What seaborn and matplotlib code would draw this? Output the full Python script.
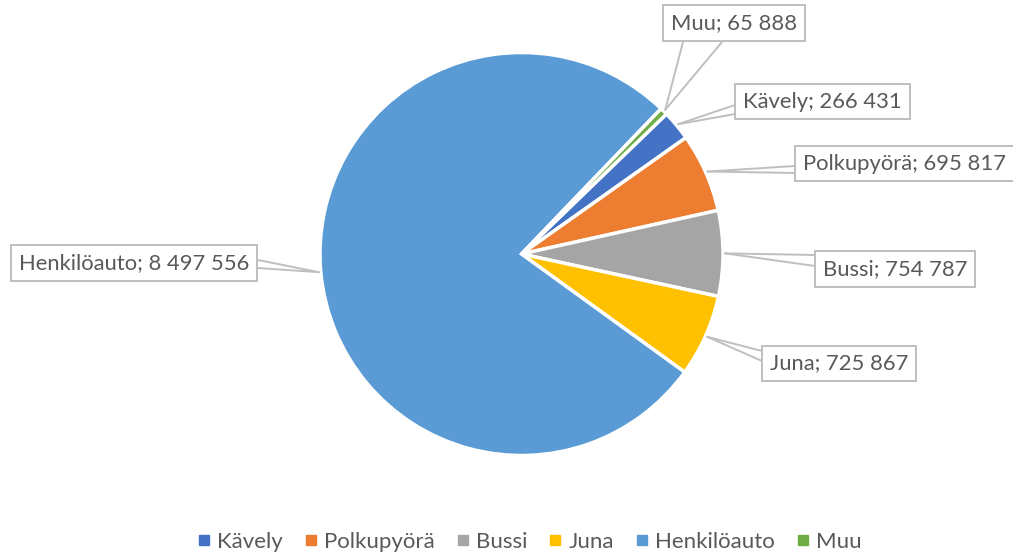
import matplotlib
matplotlib.use("Agg")
import matplotlib.pyplot as plt
import seaborn as sns
import numpy as np
from matplotlib.lines import Line2D

categories = ["Kävely", "Polkupyörä", "Bussi", "Juna", "Henkilöauto", "Muu"]
values = [266431, 695817, 754787, 725867, 8497556, 65888]
value_labels = ["266 431", "695 817", "754 787", "725 867", "8 497 556", "65 888"]
colors = ["#4472C4", "#ED7D31", "#A5A5A5", "#FFC000", "#5B9BD5", "#70AD47"]

sns.set_theme(style="white")
plt.rcParams['font.family'] = ['Lato', 'DejaVu Sans']

W, H = 1013, 553
fig = plt.figure(figsize=(W / 100, H / 100), dpi=100)
ax = fig.add_axes([0, 0, 1, 1])

def py(y):
    return H - y

cx, cy, r = 521.5, 254, 201.5
wedges, _ = ax.pie(values, colors=sns.color_palette(colors), startangle=44, counterclock=False,
                   center=(cx, py(cy)), radius=r,
                   wedgeprops=dict(edgecolor="white", linewidth=2.5))
ax.set_xlim(0, W)
ax.set_ylim(0, H)
ax.set_aspect("equal")
ax.axis("off")

# label layout (pixels): box left, box center y, two attach points on box edge
layout = {
    "Muu": (663, 23, [(683, 42), (722, 42)]),
    "Kävely": (735, 101.5, [(735, 105), (735, 114)]),
    "Polkupyörä": (795, 163.5, [(795, 166), (795, 173)]),
    "Bussi": (815, 269, [(815, 255), (815, 266)]),
    "Juna": (762, 363.5, [(762, 351), (762, 361)]),
    "Henkilöauto": (11, 263, [(258, 260), (258, 268)]),
}

fs = 15.8
padpx = 0.36 * fs * 100 / 72
for w, cat, lab in zip(wedges, categories, value_labels):
    mid = np.deg2rad((w.theta1 + w.theta2) / 2)
    ax_x = cx + r * 1.01 * np.cos(mid)
    ax_y = py(cy) + r * 1.01 * np.sin(mid)
    left, ycen, pts = layout[cat]
    for (px_, py_) in pts:
        ax.plot([ax_x, px_], [ax_y, py(py_)], color="#BFBFBF", lw=1.4, zorder=3,
                solid_capstyle="round")
    ax.text(left + padpx, py(ycen), f"{cat}; {lab}", ha="left", va="center",
            fontsize=fs, color="#595959", zorder=5,
            bbox=dict(boxstyle="square,pad=0.36", fc="white", ec="#BFBFBF", lw=1.4))

handles = [Line2D([0], [0], marker="s", ls="", markersize=6.5, markerfacecolor=c,
                  markeredgecolor=c) for c in colors]
leg = ax.legend(handles, categories, loc="center", bbox_to_anchor=(530 / W, 1 - 542 / H),
                ncol=6, frameon=False, fontsize=16, handlelength=0.5, handletextpad=0.35,
                columnspacing=1.0, labelcolor="#595959")

fig.savefig("out.png", dpi=100, facecolor="white")
